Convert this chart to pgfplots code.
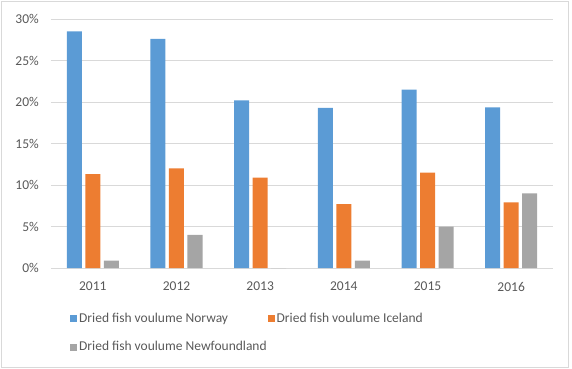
\documentclass[border=0pt]{standalone}
\usepackage{pgfplots}
\pgfplotsset{compat=1.18}
\usepackage{fontspec}
\setmainfont{Carlito}
\definecolor{cblue}{HTML}{5B9BD5}
\definecolor{corange}{HTML}{ED7D31}
\definecolor{cgray}{HTML}{A5A5A5}
\definecolor{ctext}{HTML}{595959}
\definecolor{cgrid}{HTML}{D9D9D9}
\begin{document}
\begin{tikzpicture}
\fontsize{13.5bp}{16bp}\selectfont
\useasboundingbox (-51bp,-101bp) rectangle (521bp,268bp);
\draw[cgrid] (-49.5bp,-99.5bp) rectangle (517.5bp,266.5bp);
\begin{axis}[
  at={(0,0)}, anchor=south west,
  scale only axis, width=502bp, height=249bp,
  xmin=-0.5, xmax=5.5, ymin=0, ymax=30,
  ybar=3.5bp, bar width=15bp,
  xtick={0,1,2,3,4,5},
  xticklabels={2011,2012,2013,2014,2015,2016},
  ytick={0,5,10,15,20,25,30},
  yticklabel={\pgfmathprintnumber{\tick}\%},
  /pgf/number format/assume math mode=true,
  major tick length=0pt,
  axis line style={draw=none},
  ymajorgrids, grid style={cgrid, line width=0.8pt},
  tick label style={text=ctext, font=\fontsize{13.5bp}{16bp}\selectfont},
  yticklabel style={inner sep=0pt, xshift=-12bp},
  xticklabel style={inner sep=0pt, yshift=-14bp},
  legend columns=2,
  legend cell align=left,
  legend style={draw=none, fill=none, at={(19bp,-43bp)}, anchor=north west,
    font=\fontsize{13.5bp}{16bp}\selectfont, text=ctext, inner sep=0pt,
    row sep=13bp,
    /tikz/every even column/.append style={column sep=-1bp}},
  legend image code/.code={\fill[#1] (0bp,-3.5bp) rectangle (7bp,3.5bp);},
]
\addplot[fill=cblue, draw=none] coordinates {(0,28.5) (1,27.6) (2,20.2) (3,19.3) (4,21.5) (5,19.35)};
\addplot[fill=corange, draw=none] coordinates {(0,11.3) (1,12.0) (2,10.9) (3,7.7) (4,11.5) (5,7.9)};
\addplot[fill=cgray, draw=none] coordinates {(0,0.9) (1,4.0) (2,0) (3,0.9) (4,5.0) (5,9.0)};
\legend{Dried fish voulume Norway, Dried fish voulume Iceland, Dried fish voulume Newfoundland}
\end{axis}
\end{tikzpicture}
\end{document}
